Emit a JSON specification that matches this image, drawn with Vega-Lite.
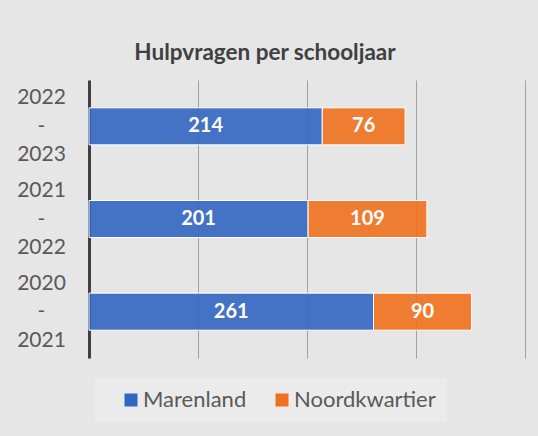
{
  "$schema": "https://vega.github.io/schema/vega-lite/v6.json",
  "autosize": "none",
  "width": 436,
  "height": 278,
  "padding": {"left": 89, "top": 80, "right": 13, "bottom": 78},
  "background": "#e6e6e6",
  "config": {"view": {"stroke": null}, "font": "Lato"},
  "title": {
    "text": "Hulpvragen per schooljaar",
    "font": "Lato",
    "fontSize": 22.5,
    "fontWeight": "bold",
    "color": "#404040",
    "anchor": "middle",
    "dx": -42,
    "offset": 16
  },
  "data": {
    "values": [
      {"year": "2022 - 2023", "region": "Marenland", "value": 214},
      {"year": "2022 - 2023", "region": "Noordkwartier", "value": 76},
      {"year": "2021 - 2022", "region": "Marenland", "value": 201},
      {"year": "2021 - 2022", "region": "Noordkwartier", "value": 109},
      {"year": "2020 - 2021", "region": "Marenland", "value": 261},
      {"year": "2020 - 2021", "region": "Noordkwartier", "value": 90}
    ]
  },
  "transform": [
    {"stack": "value", "groupby": ["year"], "sort": [{"field": "region", "order": "ascending"}], "as": ["x0", "x1"]}
  ],
  "encoding": {
    "y": {
      "field": "year",
      "type": "nominal",
      "sort": null,
      "title": null,
      "scale": {"paddingInner": 0.6, "paddingOuter": 0.3},
      "axis": {
        "labelExpr": "split(datum.label, ' ')",
        "labelAlign": "center",
        "labelBaseline": "middle",
        "labelOffset": -28,
        "labelPadding": 48,
        "labelFontSize": 21,
        "labelLineHeight": 28.5,
        "labelColor": "#595959",
        "labelFont": "Lato",
        "ticks": false,
        "domainColor": "#404040",
        "domainWidth": 3,
        "grid": false
      }
    }
  },
  "layer": [
    {
      "mark": {"type": "bar", "stroke": "white", "strokeWidth": 1, "fillOpacity": 0.9},
      "encoding": {
        "x": {
          "field": "x0",
          "type": "quantitative",
          "scale": {"domain": [0, 400]},
          "title": null,
          "axis": {
            "labels": false,
            "ticks": false,
            "domain": false,
            "grid": true,
            "gridColor": "#a0a0a0",
            "gridWidth": 1,
            "values": [0, 100, 200, 300, 400]
          }
        },
        "x2": {"field": "x1"},
        "color": {
          "field": "region",
          "type": "nominal",
          "scale": {"domain": ["Marenland", "Noordkwartier"], "range": ["#3265C0", "#EE711D"]},
          "legend": {
            "title": null,
            "orient": "none",
            "direction": "horizontal",
            "legendX": 6,
            "legendY": 298,
            "fillColor": "#ebebeb",
            "padding": 11,
            "symbolOffset": 14,
            "symbolType": "square",
            "symbolSize": 169,
            "symbolStrokeWidth": 0,
            "symbolOpacity": 1,
            "labelFontSize": 22,
            "labelColor": "#595959",
            "labelFont": "Lato",
            "labelOffset": 1,
            "columnPadding": 10
          }
        }
      }
    },
    {
      "transform": [
        {"fold": ["x0", "x1"], "as": ["edge", "pos"]},
        {"aggregate": [{"op": "mean", "field": "pos", "as": "mid"}], "groupby": ["year", "region", "value"]}
      ],
      "mark": {"type": "text", "color": "white", "fontWeight": "bold", "fontSize": 20, "font": "Lato", "align": "center", "baseline": "middle"},
      "encoding": {
        "x": {
          "field": "mid",
          "type": "quantitative",
          "title": null,
          "axis": {
            "labels": false,
            "ticks": false,
            "domain": false,
            "grid": true,
            "gridColor": "#a0a0a0",
            "gridWidth": 1,
            "values": [0, 100, 200, 300, 400]
          }
        },
        "text": {"field": "value", "type": "quantitative"}
      }
    }
  ]
}
